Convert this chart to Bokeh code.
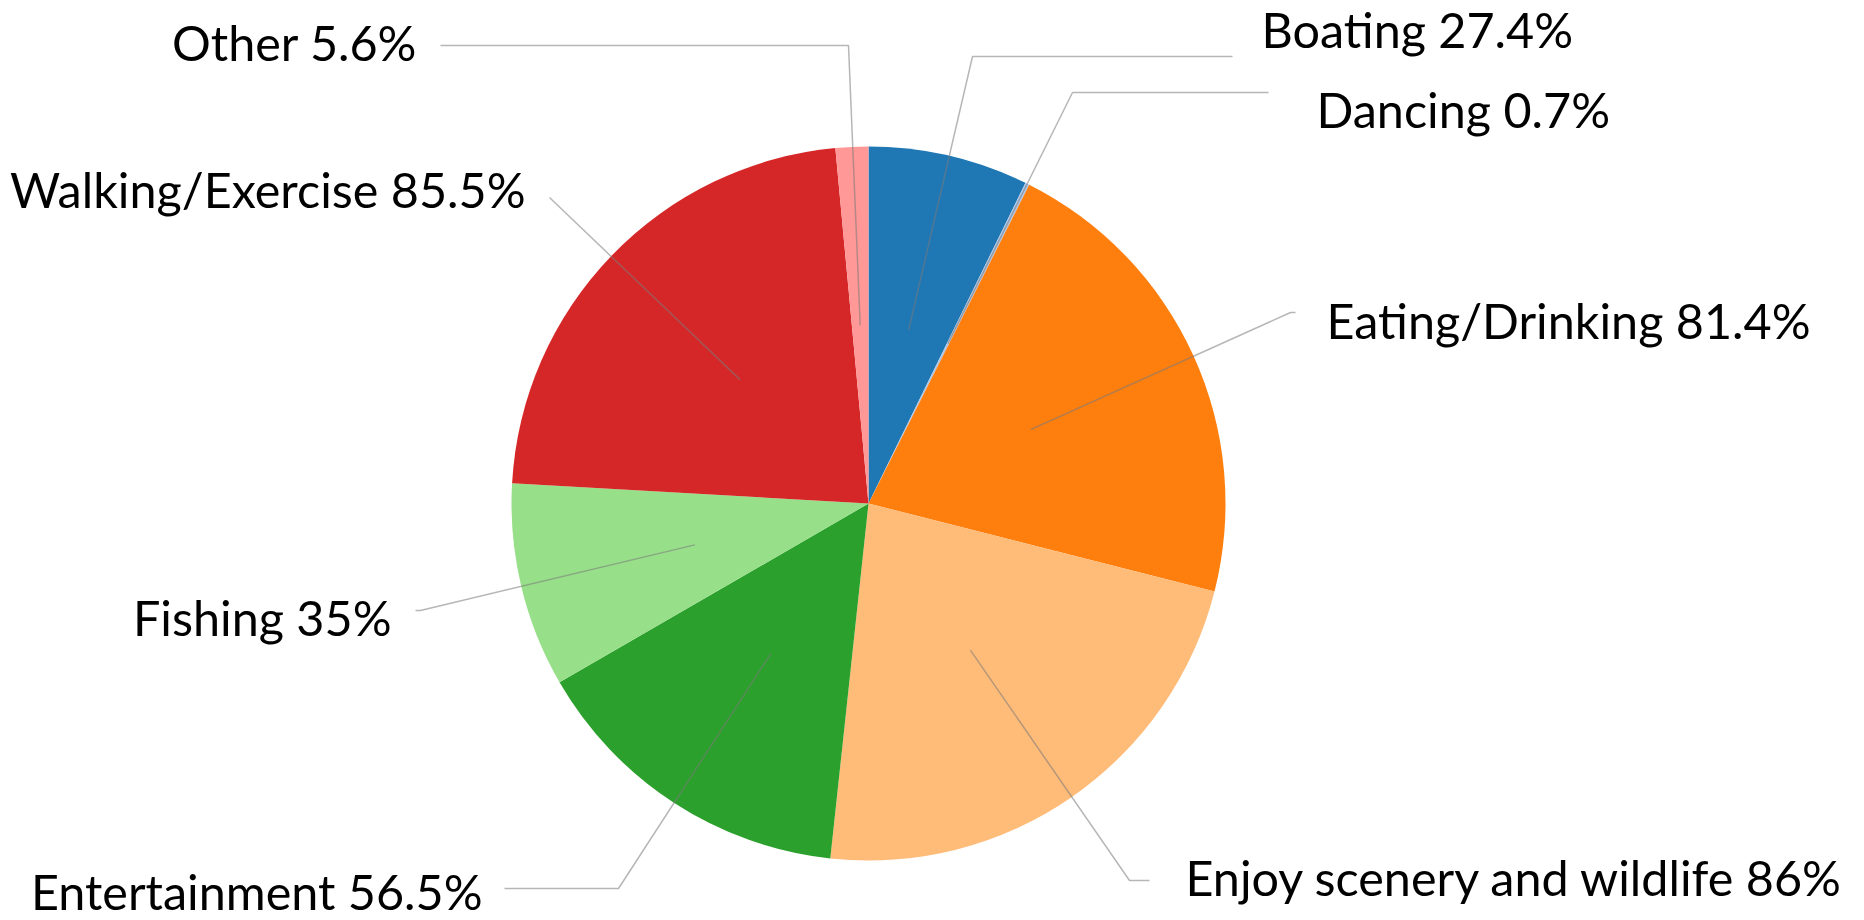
import math
from bokeh.plotting import figure
from bokeh.models import Range1d, ColumnDataSource
from bokeh.embed import file_html
from bokeh.resources import INLINE
from bokeh.core.properties import value

# ---- data ----
categories = ["Boating", "Dancing", "Eating/Drinking", "Enjoy scenery and wildlife",
              "Entertainment", "Fishing", "Walking/Exercise", "Other"]
values = [27.4, 0.7, 81.4, 86.0, 56.5, 35.0, 85.5, 5.6]
colors = ["#1f77b4", "#aec7e8", "#ff7f0e", "#ffbb78",
          "#2ca02c", "#98df8a", "#d62728", "#ff9896"]

# ---- layout (page pixels) ----
W, H = 1864, 920
OFF = 0
CX, CY, R = 868, 503, 357
# per label: elbow x, elbow y, line end x, text x, text y, align
LABEL_LAYOUT = {
    "Boating": (972, 56, 1232, 1261, 28, "left"),
    "Dancing": (1072, 92, 1268, 1316, 108, "left"),
    "Eating/Drinking": (1290, 312, 1295, 1326, 319, "left"),
    "Enjoy scenery and wildlife": (1129, 880, 1149, 1185, 876, "left"),
    "Entertainment": (618, 888, 504, 482, 890, "right"),
    "Fishing": (420, 610, 415, 391, 616, "right"),
    "Walking/Exercise": (549, 197, 549, 525, 188, "right"),
    "Other": (848, 45, 440, 417, 41, "right"),
}


def dx(sx):
    return (sx - CX) / R


def dy(sy):
    return (CY - sy) / R


total = sum(values)
starts, ends, mids = [], [], []
acc = 0.0
for v in values:
    a0 = math.pi / 2 - 2 * math.pi * acc / total
    acc += v
    a1 = math.pi / 2 - 2 * math.pi * acc / total
    starts.append(a0)
    ends.append(a1)
    mids.append((a0 + a1) / 2)

src = ColumnDataSource(dict(start=starts, end=ends, color=colors, cat=categories))

p = figure(width=W, height=H, output_backend="svg", toolbar_location=None,
           x_range=Range1d(dx(OFF), dx(OFF + W)), y_range=Range1d(dy(OFF + H), dy(OFF)),
           min_border=0, outline_line_color=None)
p.axis.visible = False
p.grid.visible = False
p.background_fill_color = "white"
p.border_fill_color = "white"

p.wedge(x=0, y=0, radius=1, start_angle="start", end_angle="end", direction="clock",
        fill_color="color", line_color=None, source=src)

xs, ys, tx, ty, tt, ta = [], [], [], [], [], []
for cat, v, m in zip(categories, values, mids):
    ex, ey, hx, lx, ly, al = LABEL_LAYOUT[cat]
    ix, iy = 0.5 * math.cos(m), 0.5 * math.sin(m)
    xs.append([ix, dx(ex), dx(hx)])
    ys.append([iy, dy(ey), dy(ey)])
    tx.append(dx(lx))
    ty.append(dy(ly))
    tt.append(f"{cat} {v:g}%")
    ta.append(al)

p.multi_line(xs=xs, ys=ys, line_color="#7a7a7a", line_alpha=0.55, line_width=1.5)

lab = ColumnDataSource(dict(x=tx, y=ty, text=tt, align=ta))
p.text(x="x", y="y", text="text", text_align="align", text_baseline="middle",
       text_font=value("Lato"), text_font_size="48.5px", text_color="black", source=lab)

open("out.html", "w").write(file_html(p, INLINE))
